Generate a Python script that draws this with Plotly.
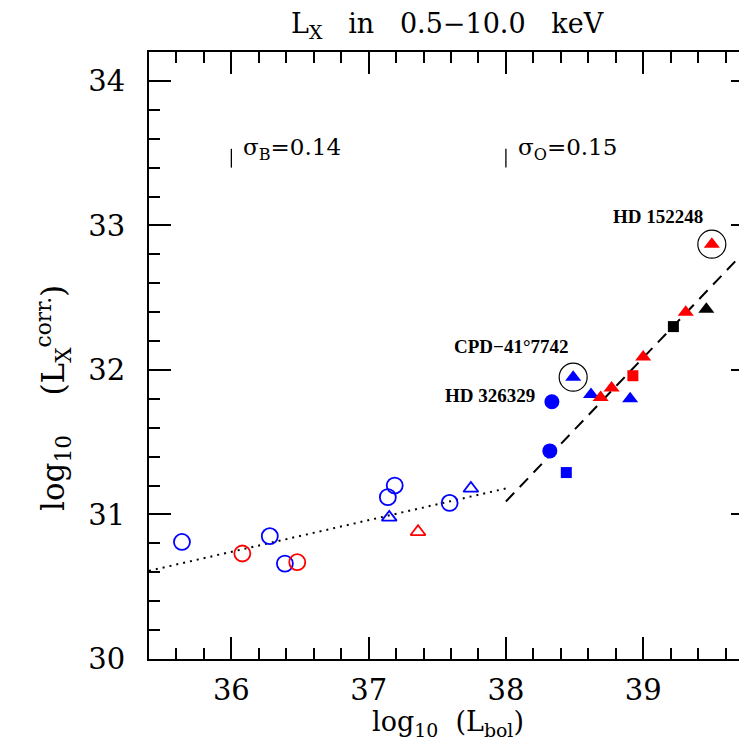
import plotly.graph_objects as go

# ---- data ----
blue_open_circ_x = [35.64, 36.28, 36.39, 37.14, 37.19, 37.59]
blue_open_circ_y = [30.81, 30.85, 30.66, 31.12, 31.20, 31.08]
red_open_circ_x = [36.08, 36.48]
red_open_circ_y = [30.73, 30.67]
blue_open_tri_x = [37.15, 37.745]
blue_open_tri_y = [30.98, 31.18]
red_open_tri_x = [37.36]
red_open_tri_y = [30.88]
blue_circ_x = [38.335, 38.32]
blue_circ_y = [31.78, 31.44]
blue_sq_x = [38.44]
blue_sq_y = [31.29]
blue_tri_x = [38.49, 38.62, 38.905]
blue_tri_y = [31.95, 31.83, 31.80]
red_tri_x = [38.69, 38.77, 39.00, 39.31, 39.50]
red_tri_y = [31.81, 31.875, 32.09, 32.40, 32.87]
red_sq_x = [38.925]
red_sq_y = [31.96]
black_sq_x = [39.22]
black_sq_y = [32.30]
black_tri_x = [39.46]
black_tri_y = [32.42]

fitB_x = [35.4, 38.0]
fitB_y = [30.61, 31.18]
fitO_x = [38.0, 39.8]
fitO_y = [31.09, 32.88]

hl_names = ["HD 152248", "CPD\u221241\u00b07742", "HD 326329"]
hl_circle_x = [39.50, 38.49]
hl_circle_y = [32.87, 31.95]
label_x = [39.107, 38.04, 37.886]
label_y = [33.06, 32.16, 31.82]

sigma_text = ["\u03c3<sub>B</sub>=0.14", "\u03c3<sub>O</sub>=0.15"]
sigma_x = [36.0, 38.0]
sigma_y0 = 33.40
sigma_y1 = 33.53

x_ticks = [36, 37, 38, 39]
y_ticks = [30, 31, 32, 33, 34]
x_range = [35.4, 39.8]
y_range = [30.0, 34.2]

BLUE = "rgb(0,0,255)"
RED = "rgb(255,0,0)"
BLACK = "black"
SERIF = "DejaVu Serif"
TIMES = "Liberation Serif"

fig = go.Figure()

# fit lines
fig.add_trace(go.Scatter(x=fitB_x, y=fitB_y, mode="lines",
                         line=dict(color=BLACK, width=2, dash="2px,5px")))
fig.add_trace(go.Scatter(x=fitO_x, y=fitO_y, mode="lines",
                         line=dict(color=BLACK, width=2, dash="12px,8px")))

def pts(x, y, sym, color, size, lw=0):
    if sym.endswith("-open"):
        m = dict(symbol=sym, size=size, color=color, line=dict(color=color, width=lw))
    else:
        m = dict(symbol=sym, size=size, color=color, line=dict(width=0))
    fig.add_trace(go.Scatter(x=x, y=y, mode="markers", marker=m))

pts(blue_open_circ_x, blue_open_circ_y, "circle-open", BLUE, 16, 1.8)
pts(red_open_circ_x, red_open_circ_y, "circle-open", RED, 16, 1.8)
pts(blue_open_tri_x, blue_open_tri_y, "triangle-up-open", BLUE, 13, 1.8)
pts(red_open_tri_x, red_open_tri_y, "triangle-up-open", RED, 13, 1.8)
pts(blue_circ_x, blue_circ_y, "circle", BLUE, 15)
pts(blue_sq_x, blue_sq_y, "square", BLUE, 11)
pts(blue_tri_x, blue_tri_y, "triangle-up", BLUE, 14)
pts(red_tri_x, red_tri_y, "triangle-up", RED, 14)
pts(red_sq_x, red_sq_y, "square", RED, 11)
pts(black_sq_x, black_sq_y, "square", BLACK, 11)
pts(black_tri_x, black_tri_y, "triangle-up", BLACK, 14)

# highlight circles
fig.add_trace(go.Scatter(x=hl_circle_x, y=hl_circle_y, mode="markers",
                         marker=dict(symbol="circle-open", size=28, color=BLACK,
                                     line=dict(color=BLACK, width=1.2))))

# sigma bars
bx, by = [], []
for sx in sigma_x:
    bx += [sx, sx, None]
    by += [sigma_y0, sigma_y1, None]
fig.add_trace(go.Scatter(x=bx, y=by, mode="lines", line=dict(color=BLACK, width=1.3)))

for t, sx in zip(sigma_text, sigma_x):
    fig.add_annotation(x=sx, y=sigma_y1, text=t, showarrow=False,
                       xanchor="left", yanchor="middle", xshift=10,
                       font=dict(family=SERIF, size=23, color=BLACK))

for t, lx, ly in zip(hl_names, label_x, label_y):
    fig.add_annotation(x=lx, y=ly, text="<b>" + t + "</b>", showarrow=False,
                       xanchor="center", yanchor="middle",
                       font=dict(family=TIMES, size=19, color=BLACK))

axis_common = dict(
    showgrid=False, zeroline=False, showline=True, linecolor=BLACK, linewidth=2,
    mirror="allticks", ticks="inside", ticklen=22, tickwidth=1.5, tickcolor=BLACK,
    tickfont=dict(family=SERIF, size=29, color=BLACK),
    minor=dict(ticks="inside", ticklen=11, tickwidth=1.5, tickcolor=BLACK, dtick=0.2,
               showgrid=False),
)

fig.update_xaxes(range=x_range, tickvals=x_ticks, ticklabelstandoff=4, **axis_common)
fig.update_yaxes(range=y_range, tickvals=y_ticks, ticklabelstandoff=16, **axis_common)

# titles
fig.add_annotation(xref="paper", yref="paper", x=0.495, y=1.0, yshift=27,
                   text="L<sub>X</sub>   in   0.5\u221210.0   keV", showarrow=False,
                   xanchor="center", yanchor="middle",
                   font=dict(family=SERIF, size=27, color=BLACK))
fig.add_annotation(xref="paper", yref="paper", x=0.495, y=0.0, yshift=-64,
                   text="log<sub>10</sub>  (L<sub>bol</sub>)", showarrow=False,
                   xanchor="center", yanchor="middle",
                   font=dict(family=SERIF, size=27, color=BLACK))
fig.add_annotation(xref="paper", yref="paper", x=0.0, y=0.43, xshift=-95,
                   text="log<sub>10</sub>    (L<sub>X</sub><sup>corr.</sup>)", showarrow=False,
                   xanchor="center", yanchor="middle", textangle=-90,
                   font=dict(family=SERIF, size=31, color=BLACK))

fig.update_layout(
    width=747, height=744, showlegend=False,
    margin=dict(l=141, r=2, t=44, b=93, autoexpand=False),
    paper_bgcolor="white", plot_bgcolor="white",
)

fig.write_html("out.html")
